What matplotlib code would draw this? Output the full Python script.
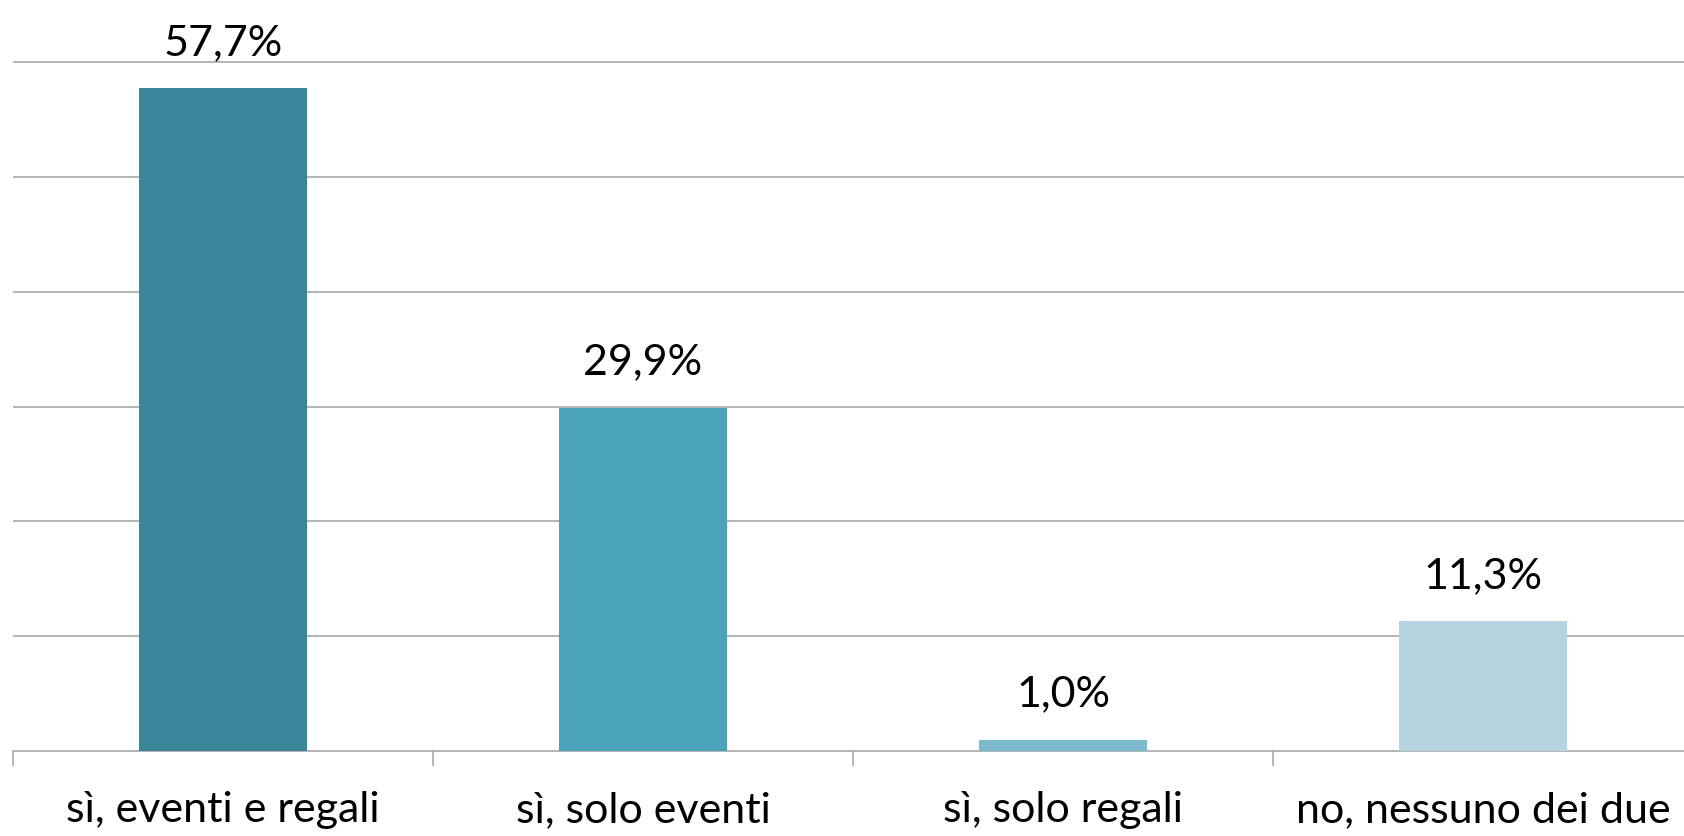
import numpy as np
import matplotlib.pyplot as plt

categories = ['sì, eventi e regali', 'sì, solo eventi', 'sì, solo regali', 'no, nessuno dei due']
values = [57.7, 29.9, 1.0, 11.3]
labels = ['57,7%', '29,9%', '1,0%', '11,3%']
colors = ['#3a8699', '#4aa3bb', '#7bb9cd', '#b6d4df']

plt.rcParams['font.family'] = ['Lato', 'DejaVu Sans']

fig = plt.figure(figsize=(16.84, 8.36), dpi=100)
ax = fig.add_axes([13 / 1684, 1 - 751 / 836, 1680 / 1684, 751 / 836])

x = np.arange(len(categories))
ax.bar(x, values, width=0.4, color=colors, zorder=3)

for xi, v, lab in zip(x, values, labels):
    ax.annotate(lab, (xi, v), xytext=(0, 19), textcoords='offset points',
                ha='center', va='bottom', fontsize=31, color='black')

ax.set_xlim(-0.5, 3.5)
ax.set_ylim(0, 65.4)
for g in range(10, 70, 10):
    ax.axhline(g, color='#a0a0a0', lw=1.1, zorder=1)

for s in ['top', 'right', 'left']:
    ax.spines[s].set_visible(False)
ax.spines['bottom'].set_color('#a0a0a0')
ax.spines['bottom'].set_linewidth(1.1)

ax.set_yticks([])
ax.set_xticks(np.arange(-0.5, 4.0, 1.0), minor=False)
ax.set_xticklabels([])
ax.tick_params(axis='x', which='major', length=11, width=1.1, color='#a0a0a0')
ax.set_xticks(x, minor=True)
ax.set_xticklabels(categories, minor=True, fontsize=31)
ax.tick_params(axis='x', which='minor', length=0, pad=29)

fig.savefig('out.png', dpi=100)
